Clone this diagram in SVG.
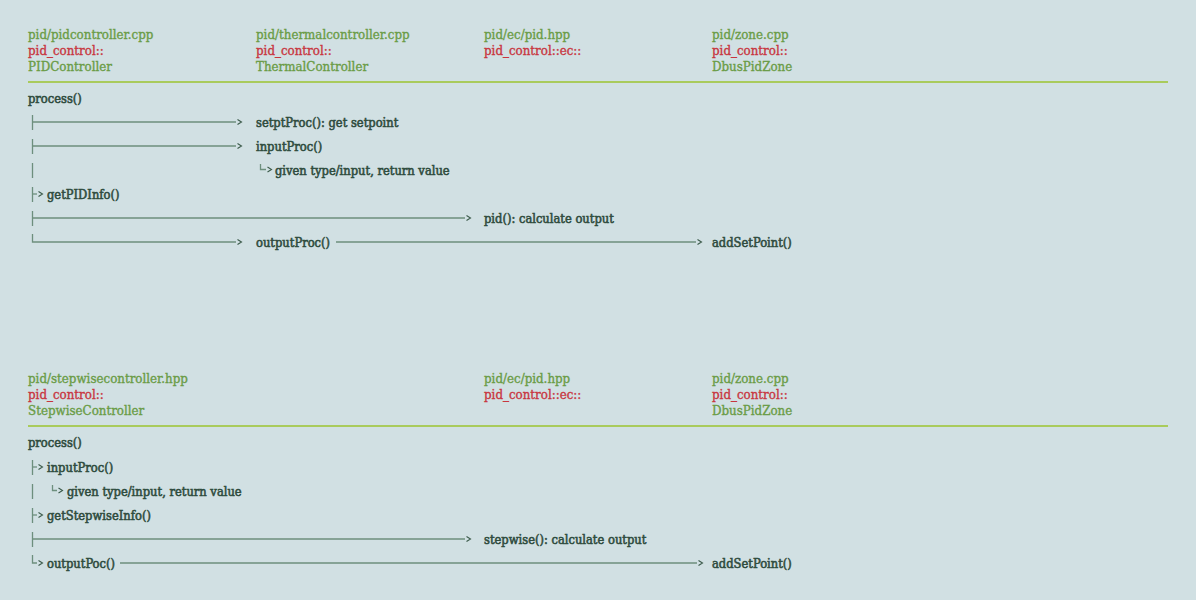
<svg xmlns="http://www.w3.org/2000/svg" width="1196" height="600" viewBox="0 0 1196 600">
<defs>
<style>
text{font-family:"DejaVu Serif Condensed","DejaVu Serif","Liberation Serif",serif;font-size:13.2px}
.f{fill:#6a9c46;stroke:#6a9c46;stroke-width:0.35}
.n{fill:#c8363f;stroke:#c8363f;stroke-width:0.35}
.b{fill:#2f4c3e;stroke:#2f4c3e;stroke-width:0.55;font-size:12.8px}
.rule{stroke:#a9cb5c;stroke-width:2.2}
.c{fill:none;stroke:#6d8f7d;stroke-width:1.3}
.t{fill:none;stroke:#6d8f7d;stroke-width:1.3}
</style>
<marker id="arr" markerUnits="userSpaceOnUse" markerWidth="8" markerHeight="8" viewBox="-2 -4 8 8" refX="-1.5" refY="0" orient="auto" overflow="visible">
<path d="M0,-2.5 L4,0 L0,2.5" fill="none" stroke="#3b5a4a" stroke-width="1.1"/>
</marker>
</defs>
<rect width="1196" height="600" fill="#d1e0e3"/>

<g id="top-headers">
<g id="h-pidcontroller"><text x="28" y="39" class="f">pid/pidcontroller.cpp</text><text x="28" y="55" class="n">pid_control::</text><text x="28" y="71" class="f">PIDController</text></g>
<g id="h-thermal"><text x="256" y="39" class="f">pid/thermalcontroller.cpp</text><text x="256" y="55" class="n">pid_control::</text><text x="256" y="71" class="f">ThermalController</text></g>
<g id="h-ec"><text x="484" y="39" class="f">pid/ec/pid.hpp</text><text x="484" y="55" class="n">pid_control::ec::</text></g>
<g id="h-zone"><text x="712" y="39" class="f">pid/zone.cpp</text><text x="712" y="55" class="n">pid_control::</text><text x="712" y="71" class="f">DbusPidZone</text></g>
<line x1="28" y1="82" x2="1168" y2="82" class="rule"/>
</g>

<g id="top-calls">
<g id="t-process"><text x="28" y="103" class="b">process()</text></g>
<g id="t-setpt"><text x="256" y="127" class="b">setptProc(): get setpoint</text></g>
<g id="t-input"><text x="256" y="151" class="b">inputProc()</text></g>
<g id="t-given"><text x="275" y="175" class="b">given type/input, return value</text></g>
<g id="t-getpid"><text x="47" y="199" class="b">getPIDInfo()</text></g>
<g id="t-pid"><text x="484" y="223" class="b">pid(): calculate output</text></g>
<g id="t-output"><text x="256" y="247" class="b">outputProc()</text></g>
<g id="t-addset"><text x="712" y="247" class="b">addSetPoint()</text></g>
</g>

<g id="bottom-headers">
<g id="h-stepwise"><text x="28" y="383" class="f">pid/stepwisecontroller.hpp</text><text x="28" y="399" class="n">pid_control::</text><text x="28" y="415" class="f">StepwiseController</text></g>
<g id="h-ec2"><text x="484" y="383" class="f">pid/ec/pid.hpp</text><text x="484" y="399" class="n">pid_control::ec::</text></g>
<g id="h-zone2"><text x="712" y="383" class="f">pid/zone.cpp</text><text x="712" y="399" class="n">pid_control::</text><text x="712" y="415" class="f">DbusPidZone</text></g>
<line x1="28" y1="426" x2="1168" y2="426" class="rule"/>
</g>

<g id="bottom-calls">
<g id="b-process"><text x="28" y="447" class="b">process()</text></g>
<g id="b-input"><text x="47" y="472" class="b">inputProc()</text></g>
<g id="b-given"><text x="67" y="496" class="b">given type/input, return value</text></g>
<g id="b-getstep"><text x="47" y="520" class="b">getStepwiseInfo()</text></g>
<g id="b-stepwise"><text x="484" y="544" class="b">stepwise(): calculate output</text></g>
<g id="b-output"><text x="47" y="568" class="b">outputPoc()</text></g>
<g id="b-addset"><text x="712" y="568" class="b">addSetPoint()</text></g>
</g>

<g id="connectors">
<path class="t" d="M32.5,115 V130"/>
<path class="c" d="M33,122 H236" marker-end="url(#arr)"/>
<path class="t" d="M32.5,139 V154"/>
<path class="c" d="M33,146 H236" marker-end="url(#arr)"/>
<path class="t" d="M32.5,163 V178"/>
<path class="t" d="M260.5,164 V169.5 H266" marker-end="url(#arr)"/>
<path class="t" d="M32.5,187 V202"/>
<path class="c" d="M33,194 H37" marker-end="url(#arr)"/>
<path class="t" d="M32.5,211 V226"/>
<path class="c" d="M33,218 H465" marker-end="url(#arr)"/>
<path class="c" d="M32.5,234 V242 H236" marker-end="url(#arr)"/>
<path class="c" d="M336,242 H696" marker-end="url(#arr)"/>
<path class="t" d="M32.5,460 V475"/>
<path class="c" d="M33,467 H37" marker-end="url(#arr)"/>
<path class="t" d="M32.5,484 V499"/>
<path class="t" d="M52.5,485 V490.5 H57" marker-end="url(#arr)"/>
<path class="t" d="M32.5,508 V523"/>
<path class="c" d="M33,515 H37" marker-end="url(#arr)"/>
<path class="t" d="M32.5,532 V547"/>
<path class="c" d="M33,539 H465" marker-end="url(#arr)"/>
<path class="c" d="M32.5,555 V563 H37" marker-end="url(#arr)"/>
<path class="c" d="M120,563 H697" marker-end="url(#arr)"/>
</g>
</svg>
